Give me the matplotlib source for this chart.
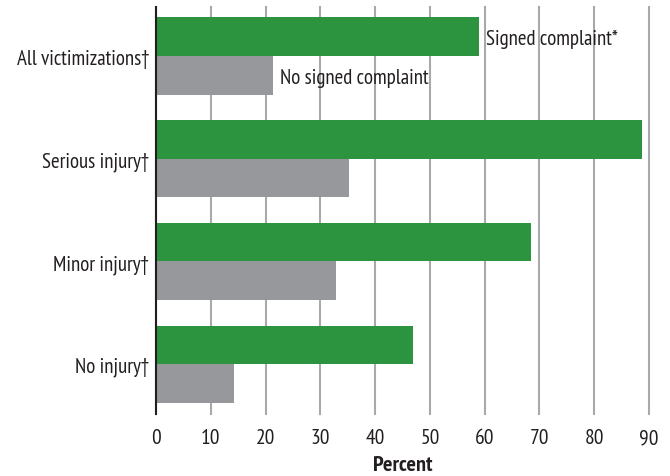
import matplotlib
matplotlib.use("Agg")
import matplotlib.pyplot as plt
import numpy as np

categories = ["All victimizations\u2020", "Serious injury\u2020", "Minor injury\u2020", "No injury\u2020"]
signed = [58.9, 88.8, 68.5, 46.9]
no_signed = [21.3, 35.2, 32.8, 14.2]
series_names = ["Signed complaint*", "No signed complaint"]
xticks = [0, 10, 20, 30, 40, 50, 60, 70, 80, 90]

FONT = ['PT Sans Narrow', 'DejaVu Sans']
plt.rcParams['font.family'] = FONT
TXT = '#231f20'
FS = 15

fig = plt.figure(figsize=(6.7, 4.77), dpi=100)
ax = fig.add_axes([156/670, 1-415/477, (649-156)/670, (415-8)/477])

y = np.arange(len(categories))
h = 0.376
ax.barh(y - h/2, signed, height=h, color='#2c943e', zorder=3)
ax.barh(y + h/2, no_signed, height=h, color='#97989c', zorder=3)

ax.set_xlim(0, 90)
ax.set_ylim(3.485, -0.477)
ax.set_xticks(xticks)
ax.set_xticklabels([str(t) for t in xticks])
ax.set_yticks(y)
ax.set_yticklabels(categories)
ax.tick_params(axis='x', length=0, pad=10, labelsize=15.5, colors=TXT)
ax.tick_params(axis='y', length=0, pad=5, labelsize=FS, colors=TXT)
ax.grid(axis='x', color='#a7a9ac', linewidth=1.5, zorder=0)
for gl in ax.get_xgridlines():
    gl.set_clip_on(False)
for s in ['top', 'right', 'bottom']:
    ax.spines[s].set_visible(False)
ax.spines['left'].set_color('#231f20')
ax.spines['left'].set_linewidth(1.5)
ax.spines['left'].set_zorder(4)

ax.set_xlabel("Percent", fontsize=16, fontweight='bold', color=TXT, labelpad=6)

ax.text(signed[0] + 1.4, 0 - h/2 + 0.02, series_names[0], va='center', ha='left', fontsize=FS, color=TXT, zorder=5)
ax.text(no_signed[0] + 1.4, 0 + h/2 + 0.02, series_names[1], va='center', ha='left', fontsize=FS, color=TXT, zorder=5)

fig.savefig("out.png", dpi=100)
